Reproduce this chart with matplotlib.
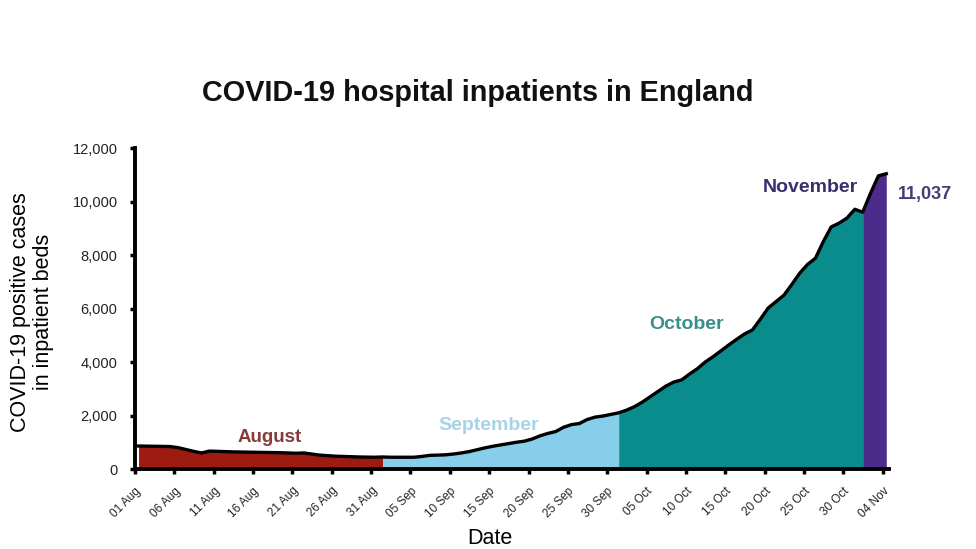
import matplotlib
matplotlib.use("Agg")
import matplotlib.pyplot as plt
import numpy as np

plt.rcParams['font.family'] = ['Liberation Sans', 'DejaVu Sans']

# Daily inpatients, 01 Aug .. 04 Nov
august = [860, 855, 850, 845, 840, 800, 730, 660, 600, 670, 660, 650, 640, 635, 630,
          625, 620, 615, 610, 600, 590, 600, 560, 520, 500, 480, 470, 460, 450, 445, 440]
september = [450, 440, 440, 440, 440, 470, 510, 520, 530, 560, 600, 650, 720, 790, 850,
             900, 950, 1000, 1040, 1120, 1240, 1330, 1400, 1560, 1660, 1700, 1850, 1940, 1980, 2040]
october = [2100, 2200, 2330, 2500, 2700, 2900, 3100, 3250, 3330, 3550, 3750, 4000, 4200, 4420,
           4640, 4850, 5050, 5200, 5600, 6020, 6260, 6500, 6900, 7320, 7650, 7880, 8500, 9050,
           9190, 9380, 9710]
november = [9600, 10310, 10960, 11037]

month_names = ["August", "September", "October", "November"]
fill_colors = ["#9E1B12", "#87CEEB", "#0B8C8C", "#4B2C8A"]
label_colors = ["#8B3A3A", "#A6D4E6", "#3A8F8C", "#3C2E6E"]

tick_labels = ["01 Aug", "06 Aug", "11 Aug", "16 Aug", "21 Aug", "26 Aug", "31 Aug",
               "05 Sep", "10 Sep", "15 Sep", "20 Sep", "25 Sep", "30 Sep",
               "05 Oct", "10 Oct", "15 Oct", "20 Oct", "25 Oct", "30 Oct", "04 Nov"]
last_label = "11,037"

months = [august, september, october, november]
values = np.concatenate(months)
x = np.arange(len(values)) + 0.45

fig = plt.figure(figsize=(9.76, 5.49), dpi=100)
ax = fig.add_axes([0.1383, 0.1457, 0.9109 - 0.1383, 0.7304 - 0.1457])

start = 0
for vals, col in zip(months, fill_colors):
    end = start + len(vals)
    stop = min(end + 1, len(values))
    ax.fill_between(x[start:stop], 0, values[start:stop], color=col, linewidth=0, zorder=1)
    start = end

ax.plot(x, values, color="black", linewidth=2.4, zorder=3, solid_joinstyle="round")

ax.set_xlim(0.0, 95.8)
ax.set_ylim(0, 12000)
ax.set_yticks(np.arange(0, 12001, 2000))
ax.set_yticklabels([f"{v:,}" for v in range(0, 12001, 2000)], fontsize=10.5, color="#222222")
ax.set_xticks(np.arange(0, 96, 5))
ax.set_xticklabels(tick_labels, rotation=45, ha="right", rotation_mode="anchor", fontsize=8.5,
                   color="#222222")

for s in ["top", "right"]:
    ax.spines[s].set_visible(False)
for s in ["left", "bottom"]:
    ax.spines[s].set_linewidth(2.8)
    ax.spines[s].set_color("black")
ax.tick_params(axis="both", direction="out", length=3.5, width=2.5, color="black")
ax.tick_params(axis="y", pad=9)
ax.tick_params(axis="x", pad=8)

ax.set_ylabel("COVID-19 positive cases\nin inpatient beds", fontsize=15.5, linespacing=1.15)
ax.yaxis.set_label_coords(-0.107, 0.49)
ax.set_xlabel("Date", fontsize=15.5)
ax.xaxis.set_label_coords(0.471, -0.183)

fig.text(0.489, 0.83, "COVID-19 hospital inpatients in England", ha="center", va="center",
         fontsize=20.8, fontweight="bold", color="#111111")

# month labels
ax.text(17.1, 1160, month_names[0], color=label_colors[0], fontsize=13.5, fontweight="bold",
        ha="center", va="center")
ax.text(45.0, 1610, month_names[1], color=label_colors[1], fontsize=14, fontweight="bold",
        ha="center", va="center")
ax.text(70.1, 5420, month_names[2], color=label_colors[2], fontsize=14, fontweight="bold",
        ha="center", va="center")
ax.text(85.8, 10510, month_names[3], color=label_colors[3], fontsize=14, fontweight="bold",
        ha="center", va="center")
ax.text(100.4, 10250, last_label, color="#4A3A78", fontsize=13, fontweight="bold",
        ha="center", va="center", clip_on=False)

fig.savefig("out.png", dpi=100, facecolor="white")
